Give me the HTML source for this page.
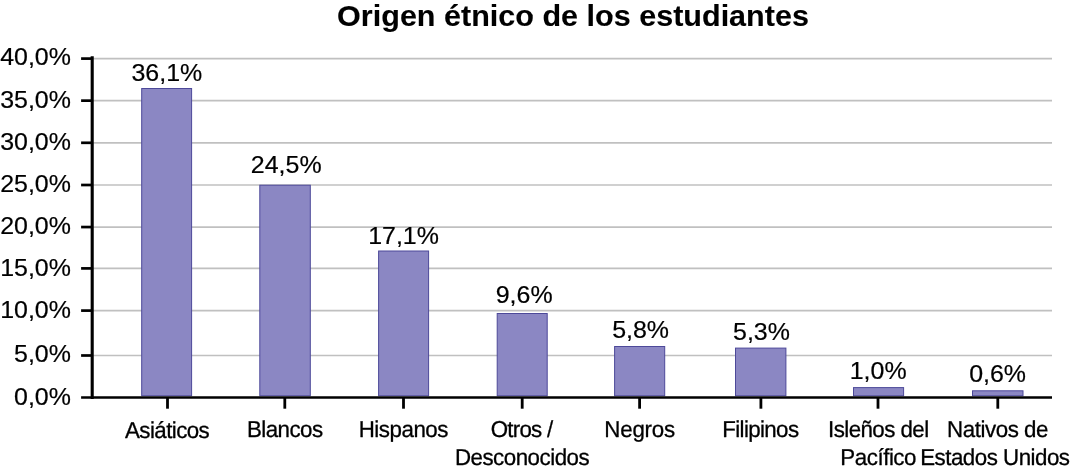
<!DOCTYPE html>
<html lang="es"><head><meta charset="utf-8"><title>Origen étnico de los estudiantes</title>
<style>html,body{margin:0;padding:0;background:#fff;}body{width:1075px;height:473px;overflow:hidden;}svg{display:block;font-family:"Liberation Sans",sans-serif;}text{fill:#000;stroke:#000;stroke-width:0.2px;stroke-linejoin:round;}.t{font-weight:bold;font-size:30px;stroke-width:0.1px;}.y{font-size:24px;text-anchor:end;}.v{font-size:24px;text-anchor:end;}.c{font-size:23.0px;stroke-width:0.3px;text-rendering:geometricPrecision;}</style></head><body>
<svg width="1075" height="473" viewBox="0 0 1075 473">
<rect width="1075" height="473" fill="#fff"/>
<text class="t" transform="translate(337.1,26.0) scale(1.0185,1)">Origen étnico de los estudiantes</text>
<line x1="92.2" x2="1052" y1="355.50" y2="355.50" stroke="#c0c0c0" stroke-width="1.7"/>
<line x1="92.2" x2="1052" y1="310.60" y2="310.60" stroke="#c0c0c0" stroke-width="1.7"/>
<line x1="92.2" x2="1052" y1="268.40" y2="268.40" stroke="#c0c0c0" stroke-width="1.7"/>
<line x1="92.2" x2="1052" y1="227.05" y2="227.05" stroke="#c0c0c0" stroke-width="1.7"/>
<line x1="92.2" x2="1052" y1="185.00" y2="185.00" stroke="#c0c0c0" stroke-width="1.7"/>
<line x1="92.2" x2="1052" y1="142.80" y2="142.80" stroke="#c0c0c0" stroke-width="1.7"/>
<line x1="92.2" x2="1052" y1="100.65" y2="100.65" stroke="#c0c0c0" stroke-width="1.7"/>
<line x1="92.2" x2="1052" y1="58.60" y2="58.60" stroke="#c0c0c0" stroke-width="1.7"/>
<rect x="141.70" y="88.50" width="49.90" height="307.25" fill="#8b87c3" stroke="#4d4999" stroke-width="1"/>
<rect x="259.80" y="185.20" width="50.50" height="210.55" fill="#8b87c3" stroke="#4d4999" stroke-width="1"/>
<rect x="378.60" y="251.00" width="50.00" height="144.75" fill="#8b87c3" stroke="#4d4999" stroke-width="1"/>
<rect x="497.20" y="313.50" width="50.00" height="82.25" fill="#8b87c3" stroke="#4d4999" stroke-width="1"/>
<rect x="614.60" y="346.50" width="50.10" height="49.25" fill="#8b87c3" stroke="#4d4999" stroke-width="1"/>
<rect x="735.50" y="348.10" width="50.40" height="47.65" fill="#8b87c3" stroke="#4d4999" stroke-width="1"/>
<rect x="853.50" y="387.60" width="50.10" height="8.15" fill="#8b87c3" stroke="#4d4999" stroke-width="1"/>
<rect x="972.50" y="390.80" width="50.50" height="4.95" fill="#8b87c3" stroke="#4d4999" stroke-width="1"/>
<line x1="92.2" x2="92.2" y1="56.30" y2="399.05" stroke="#000" stroke-width="3.1"/>
<line x1="81.1" x2="1052" y1="397.55" y2="397.55" stroke="#000" stroke-width="2.45"/>
<line x1="81.1" x2="92.2" y1="355.50" y2="355.50" stroke="#000" stroke-width="2.7"/>
<line x1="81.1" x2="92.2" y1="310.60" y2="310.60" stroke="#000" stroke-width="2.7"/>
<line x1="81.1" x2="92.2" y1="268.40" y2="268.40" stroke="#000" stroke-width="2.7"/>
<line x1="81.1" x2="92.2" y1="227.05" y2="227.05" stroke="#000" stroke-width="2.7"/>
<line x1="81.1" x2="92.2" y1="185.00" y2="185.00" stroke="#000" stroke-width="2.7"/>
<line x1="81.1" x2="92.2" y1="142.80" y2="142.80" stroke="#000" stroke-width="2.7"/>
<line x1="81.1" x2="92.2" y1="100.65" y2="100.65" stroke="#000" stroke-width="2.7"/>
<line x1="81.1" x2="92.2" y1="58.60" y2="58.60" stroke="#000" stroke-width="2.7"/>
<line x1="167.5" x2="167.5" y1="397.6" y2="408.7" stroke="#000" stroke-width="2.8"/>
<line x1="284.8" x2="284.8" y1="397.6" y2="408.7" stroke="#000" stroke-width="2.8"/>
<line x1="403.5" x2="403.5" y1="397.6" y2="408.7" stroke="#000" stroke-width="2.8"/>
<line x1="522.2" x2="522.2" y1="397.6" y2="408.7" stroke="#000" stroke-width="2.8"/>
<line x1="639.6" x2="639.6" y1="397.6" y2="408.7" stroke="#000" stroke-width="2.8"/>
<line x1="760.9" x2="760.9" y1="397.6" y2="408.7" stroke="#000" stroke-width="2.8"/>
<line x1="878.0" x2="878.0" y1="397.6" y2="408.7" stroke="#000" stroke-width="2.8"/>
<line x1="997.8" x2="997.8" y1="397.6" y2="408.7" stroke="#000" stroke-width="2.8"/>
<text class="y" transform="translate(70.90,405.00) scale(1.04,1)">0,0%</text>
<text class="y" transform="translate(70.90,362.00) scale(1.04,1)">5,0%</text>
<text class="y" transform="translate(70.90,318.00) scale(1.04,1)">10,0%</text>
<text class="y" transform="translate(70.90,276.00) scale(1.04,1)">15,0%</text>
<text class="y" transform="translate(70.90,234.00) scale(1.04,1)">20,0%</text>
<text class="y" transform="translate(70.90,192.00) scale(1.04,1)">25,0%</text>
<text class="y" transform="translate(70.90,150.00) scale(1.04,1)">30,0%</text>
<text class="y" transform="translate(70.90,108.00) scale(1.04,1)">35,0%</text>
<text class="y" transform="translate(70.90,65.00) scale(1.04,1)">40,0%</text>
<text class="v" transform="translate(202.20,81.00) scale(1.04,1)">36,1%</text>
<text class="v" transform="translate(321.60,173.00) scale(1.04,1)">24,5%</text>
<text class="v" transform="translate(438.90,244.00) scale(1.04,1)">17,1%</text>
<text class="v" transform="translate(552.60,303.00) scale(1.04,1)">9,6%</text>
<text class="v" transform="translate(669.00,338.00) scale(1.04,1)">5,8%</text>
<text class="v" transform="translate(789.90,340.00) scale(1.04,1)">5,3%</text>
<text class="v" transform="translate(906.60,379.00) scale(1.04,1)">1,0%</text>
<text class="v" transform="translate(1026.00,382.00) scale(1.04,1)">0,6%</text>
<text class="c" transform="translate(125.00,437.50) scale(0.97,1)" letter-spacing="-0.581">Asiáticos</text>
<text class="c" transform="translate(247.04,436.50) scale(0.97,1)" letter-spacing="-0.577">Blancos</text>
<text class="c" transform="translate(358.64,436.50) scale(0.97,1)" letter-spacing="-0.467">Hispanos</text>
<text class="c" transform="translate(490.67,436.50) scale(0.97,1)" letter-spacing="-0.773">Otros /</text>
<text class="c" transform="translate(454.94,464.50) scale(0.97,1)" letter-spacing="-0.513">Desconocidos</text>
<text class="c" transform="translate(604.34,436.50) scale(0.97,1)" letter-spacing="-0.245">Negros</text>
<text class="c" transform="translate(722.24,436.50) scale(0.97,1)" letter-spacing="-0.646">Filipinos</text>
<text class="c" transform="translate(828.04,436.50) scale(0.97,1)" letter-spacing="-0.576">Isleños del</text>
<text class="c" transform="translate(840.34,464.50) scale(0.97,1)" letter-spacing="-0.475">Pacífico</text>
<text class="c" transform="translate(947.04,436.50) scale(0.97,1)" letter-spacing="-0.453">Nativos de</text>
<text class="c" transform="translate(920.14,464.50) scale(0.97,1)" letter-spacing="-0.506">Estados Unidos</text>
</svg></body></html>
